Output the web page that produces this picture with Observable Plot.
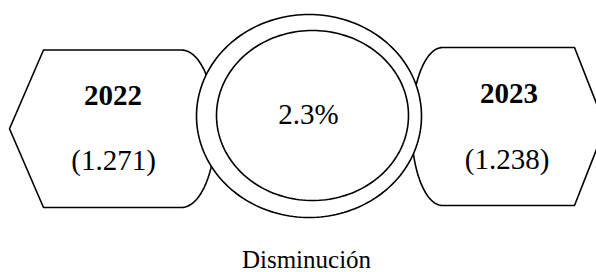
<!DOCTYPE html>
<html><head><meta charset="utf-8">
<script src="https://cdn.jsdelivr.net/npm/d3@7"></script>
<script src="https://cdn.jsdelivr.net/npm/@observablehq/plot@0.6"></script>
<style>html,body{margin:0;padding:0;background:#fff}</style>
</head><body><div id="chart"></div>
<script>
// ---- data ----
const years = ["2022", "2023"];
const totals = [1271, 1238];
const changeLabels = ["2.3%"];
const captionLabels = ["Disminución"];

// ---- layout (not data) ----
const W = 596, H = 272;
const fmt = d3.formatLocale({decimal: ",", thousands: ".", grouping: [3], currency: ["", "€"]}).format(",");
const node = d3.scalePoint().domain([years[0], "change", years[1]]).range([112, 508]);

const shapeGeom = [
  {key: years[0], side: "left",  hw: 69, d: 34, y0: 49.5, y1: 207},
  {key: years[1], side: "right", hw: 66, d: 31, y0: 47,   y1: 205}
];
function displayShape(g) {
  const cx = node(g.key), ym = (g.y0 + g.y1) / 2, ry = (g.y1 - g.y0) / 2;
  const pts = [];
  const N = 60;
  if (g.side === "left") {
    pts.push({x: cx - g.hw - g.d, y: ym});
    pts.push({x: cx - g.hw, y: g.y0});
    for (let i = 0; i <= N; i++) {
      const t = -Math.PI / 2 + Math.PI * i / N;
      pts.push({x: cx + g.hw + g.d * Math.cos(t), y: ym + ry * Math.sin(t)});
    }
    pts.push({x: cx - g.hw, y: g.y1});
  } else {
    pts.push({x: cx + g.hw + g.d, y: ym});
    pts.push({x: cx + g.hw, y: g.y1});
    for (let i = 0; i <= N; i++) {
      const t = Math.PI / 2 + Math.PI * i / N;
      pts.push({x: cx - g.hw + g.d * Math.cos(t), y: ym + ry * Math.sin(t)});
    }
    pts.push({x: cx + g.hw, y: g.y0});
  }
  return pts.map(p => ({...p, id: g.key}));
}
const shapes = shapeGeom.flatMap(displayShape);

function ellipse(id, cx, cy, rx, ry) {
  const N = 180;
  return d3.range(N).map(i => {
    const t = 2 * Math.PI * i / N;
    return {id, x: cx + rx * Math.cos(t), y: cy + ry * Math.sin(t)};
  });
}
const ringOuter = ellipse("outer", node("change") - 1.5, 115.5, 112.5, 101.5);
const ringInner = ellipse("inner", node("change") + 2, 115, 96, 85);

const serif = "'Liberation Serif', 'Times New Roman', Times, serif";
const fs = 29;
const mid = b => b - 0.32 * fs;

const yearText = years.map((y, i) => ({label: y, x: node(y) + 0.5, y: mid(i ? 102 : 104)}));
const valueText = years.map((y, i) => ({label: `(${fmt(totals[i])})`, x: node(y) + (i ? -1.5 : 1), y: mid(i ? 168 : 169)}));
const changeText = changeLabels.map(l => ({label: l, x: node("change") - 2, y: mid(123)}));
const capFs = 25;
const capText = captionLabels.map(l => ({label: l, x: 306, y: 267.5 - 0.32 * capFs}));

const chart = Plot.plot({
  width: W, height: H,
  margin: 0,
  x: {type: "linear", domain: [0, W], range: [0, W], axis: null},
  y: {type: "linear", domain: [0, H], range: [0, H], axis: null},
  style: {background: "#fff", overflow: "hidden"},
  marks: [
    Plot.line(shapes, {x: "x", y: "y", z: "id", curve: "linear-closed", fill: "white", stroke: "black", strokeWidth: 1.6, strokeLinejoin: "miter"}),
    Plot.line(ringOuter, {x: "x", y: "y", z: "id", curve: "linear-closed", fill: "white", stroke: "black", strokeWidth: 1.6}),
    Plot.line(ringInner, {x: "x", y: "y", z: "id", curve: "linear-closed", fill: "white", stroke: "black", strokeWidth: 1.6}),
    Plot.text(yearText, {x: "x", y: "y", text: "label", fontFamily: serif, fontSize: fs, fontWeight: "bold", fill: "black", textAnchor: "middle", lineAnchor: "middle"}),
    Plot.text(valueText, {x: "x", y: "y", text: "label", fontFamily: serif, fontSize: fs, fill: "black", textAnchor: "middle", lineAnchor: "middle"}),
    Plot.text(changeText, {x: "x", y: "y", text: "label", fontFamily: serif, fontSize: fs, fill: "black", textAnchor: "middle", lineAnchor: "middle"}),
    Plot.text(capText, {x: "x", y: "y", text: "label", fontFamily: serif, fontSize: capFs, fill: "black", textAnchor: "middle", lineAnchor: "middle"})
  ]
});
document.getElementById("chart").appendChild(chart);
</script>
</body></html>
